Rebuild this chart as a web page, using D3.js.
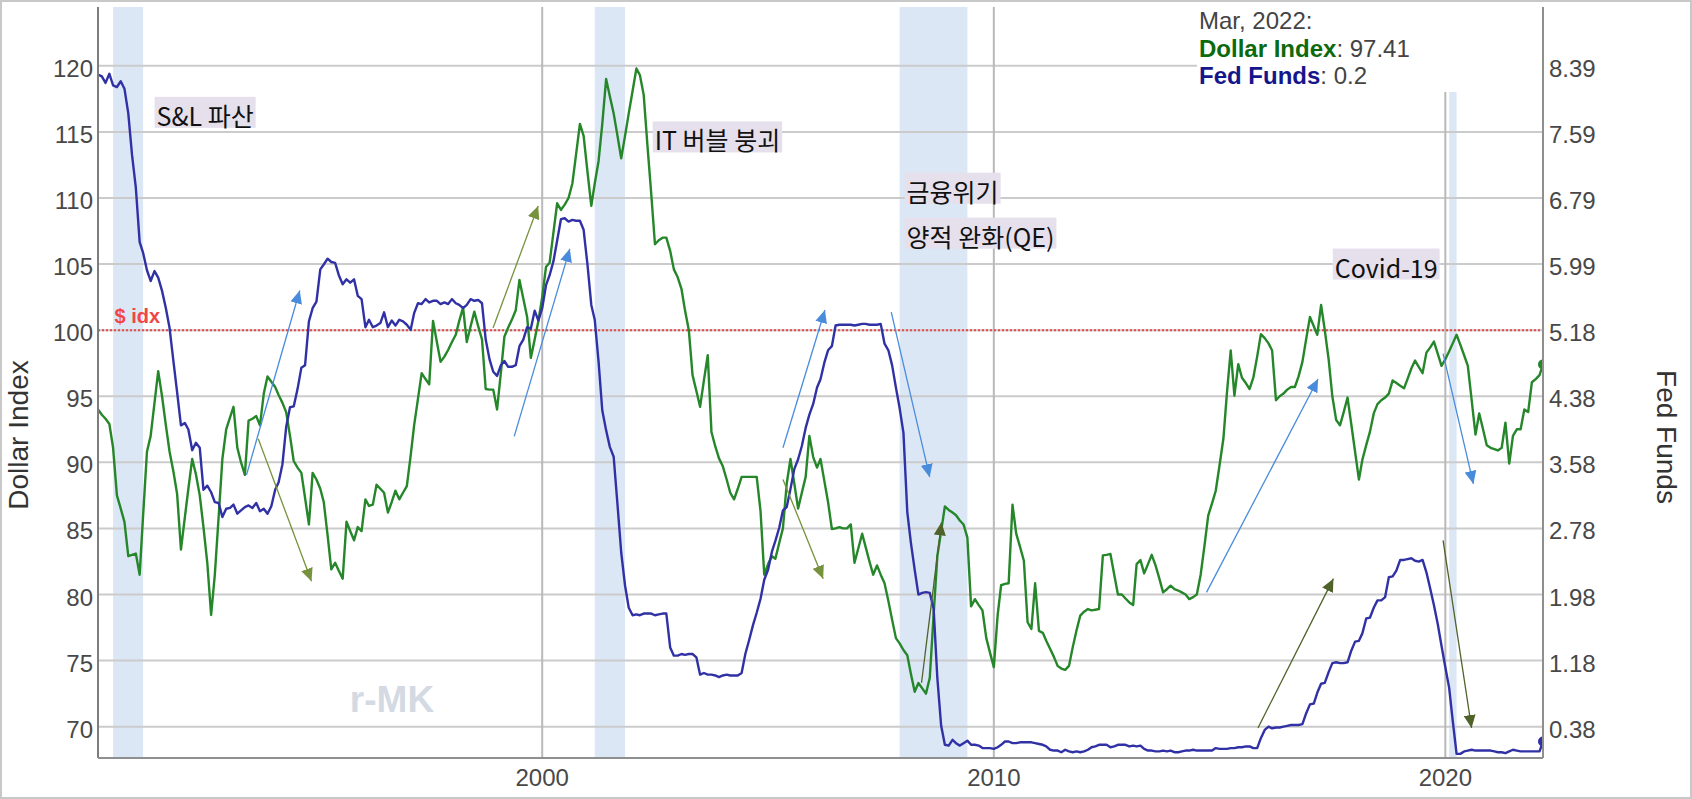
<!DOCTYPE html>
<html>
<head>
<meta charset="utf-8">
<script src="https://cdn.jsdelivr.net/npm/d3@7"></script>
<style>
  html, body { margin: 0; padding: 0; background: #fff; }
  svg { display: block; font-family: "Liberation Sans", Arial, sans-serif; }
</style>
</head>
<body>
<svg id="chart" width="1692" height="799"></svg>
<script>
// monthly data, first month = Mar 1990, last = Mar 2022
const startMonth = "1990-03";

const dollarIndex = [
  94.0, 93.6, 93.3, 92.9, 91.1, 87.5, 86.5, 85.5, 82.9, 83.0,                  // 1990 (Mar-Dec)
  83.1, 81.5, 86.0, 90.8, 92.0, 94.5, 96.9, 95.0, 92.8, 90.8, 89.3, 87.6,      // 1991
  83.4, 85.8, 88.0, 90.25, 89.1, 87.5, 85.1, 82.4, 78.45, 81.5, 85.9, 90.25,   // 1992
  92.5, 93.4, 94.2, 91.1, 90.0, 89.05, 93.16, 93.3, 93.5, 92.8, 95.2, 96.5,    // 1993
  96.1, 95.7, 95.1, 94.5, 93.8, 92.0, 90.1, 89.6, 89.2, 87.3, 85.3, 89.2,      // 1994
  88.7, 88.0, 87.0, 84.5, 81.9, 82.4, 81.8, 81.2, 85.5, 84.8, 84.1, 85.1,      // 1995
  84.8, 87.2, 86.7, 86.8, 88.3, 88.0, 87.7, 86.2, 87.0, 87.85, 87.2, 87.7,     // 1996
  88.2, 90.5, 92.8, 94.8, 96.75, 96.3, 95.9, 100.7, 99.1, 97.6, 98.0, 98.5,    // 1997
  99.1, 99.65, 100.7, 101.7, 99.1, 100.3, 101.4, 100.3, 99.3, 95.55, 95.5, 95.5, // 1998
  94.0, 96.8, 99.5, 100.2, 100.8, 101.5, 103.8, 102.4, 101.0, 97.9, 99.3, 100.7, // 1999
  102.5, 104.8, 105.1, 107.4, 109.6, 109.1, 109.5, 110.0, 111.1, 113.3, 115.6, 114.7, // 2000
  112.0, 109.4, 111.1, 112.8, 115.6, 119.0, 117.7, 116.4, 114.7, 113.0, 114.7, 116.4, // 2001
  118.1, 119.8, 119.3, 117.8, 114.0, 110.3, 106.5, 106.8, 107.0, 107.0, 106.0, 104.6, // 2002
  104.0, 103.1, 101.5, 100.0, 96.6, 95.4, 94.2, 96.2, 98.1, 92.3, 91.2, 90.3,  // 2003
  89.7, 88.7, 87.7, 87.2, 88.0, 88.9, 88.9, 88.9, 88.9, 88.9, 86.3, 81.5,      // 2004
  82.3, 82.9, 82.7, 83.9, 85.0, 88.4, 90.25, 88.4, 86.5, 87.7, 88.9, 92.0,     // 2005
  90.4, 89.6, 90.25, 88.6, 87.0, 84.95, 85.0, 85.1, 85.0, 85.0, 85.3, 82.4,    // 2006
  83.5, 84.6, 83.6, 82.5, 81.5, 82.2, 81.5, 80.85, 79.5, 78.1, 76.7, 76.3,     // 2007
  75.8, 75.4, 74.0, 72.64, 73.3, 72.9, 72.5, 73.7, 78.45, 82.9, 84.8, 86.66,   // 2008
  86.4, 86.2, 86.0, 85.6, 85.3, 84.3, 79.1, 79.65, 79.2, 78.8, 76.7, 75.6,     // 2009
  74.5, 78.45, 80.7, 80.8, 80.85, 86.8, 84.6, 83.6, 82.55, 77.9, 77.4, 80.85,  // 2010
  77.25, 77.1, 76.5, 75.9, 75.3, 74.6, 74.4, 74.3, 74.6, 76.0, 77.3, 78.4,     // 2011
  78.7, 78.9, 78.8, 78.85, 78.9, 82.96, 83.0, 83.07, 81.5, 80.0, 80.0, 79.7,   // 2012
  79.4, 79.2, 82.3, 82.6, 81.6, 82.3, 83.0, 82.2, 81.2, 80.16, 80.4, 80.67,    // 2013
  80.4, 80.3, 80.16, 80.0, 79.65, 79.8, 80.0, 81.5, 83.7, 85.97, 86.9, 87.85,  // 2014
  89.8, 91.8, 95.2, 98.46, 95.04, 97.43, 96.4, 96.0, 95.55, 96.4, 98.0, 99.7,  // 2015
  99.4, 99.0, 98.46, 94.7, 95.0, 95.2, 95.5, 95.7, 95.7, 96.5, 97.6, 99.3,     // 2016
  101.0, 100.3, 99.65, 101.9, 100.0, 97.8, 95.0, 93.2, 92.8, 93.8, 94.9, 92.9, // 2017
  90.8, 88.7, 90.2, 91.3, 92.3, 93.7, 94.4, 94.7, 94.9, 95.2, 96.2, 96.0,      // 2018
  95.8, 95.6, 96.3, 97.1, 97.7, 97.2, 96.75, 98.3, 98.7, 99.14, 98.2, 97.3,    // 2019
  97.8, 98.4, 99.0, 99.65, 98.9, 98.1, 97.3, 94.7, 92.1, 93.7, 92.5, 91.3,     // 2020
  91.1, 91.0, 90.9, 91.1, 93.0, 89.9, 92.0, 92.5, 92.5, 94.0, 93.8, 96.06,     // 2021
  96.3, 96.6, 97.41                                                            // 2022 (Jan-Mar)
];

const fedFunds = [
  8.28, 8.26, 8.18, 8.29, 8.15, 8.13, 8.20, 8.11, 7.81, 7.31,                  // 1990 (Mar-Dec)
  6.91, 6.25, 6.12, 5.91, 5.78, 5.90, 5.82, 5.66, 5.45, 5.21, 4.81, 4.43,      // 1991
  4.03, 4.06, 3.98, 3.73, 3.82, 3.76, 3.25, 3.30, 3.22, 3.10, 3.09, 2.92,      // 1992
  3.02, 3.03, 3.07, 2.96, 3.00, 3.04, 3.06, 3.03, 3.09, 2.99, 3.02, 2.96,      // 1993
  3.05, 3.25, 3.34, 3.56, 4.01, 4.25, 4.26, 4.47, 4.73, 4.76, 5.29, 5.45,      // 1994
  5.53, 5.92, 5.98, 6.05, 6.01, 6.00, 5.85, 5.74, 5.80, 5.76, 5.80, 5.60,      // 1995
  5.56, 5.22, 5.31, 5.22, 5.24, 5.27, 5.40, 5.22, 5.30, 5.24, 5.31, 5.29,      // 1996
  5.25, 5.19, 5.39, 5.51, 5.50, 5.56, 5.52, 5.54, 5.54, 5.50, 5.52, 5.50,      // 1997
  5.56, 5.51, 5.49, 5.45, 5.49, 5.56, 5.54, 5.55, 5.51, 5.07, 4.83, 4.68,      // 1998
  4.63, 4.76, 4.81, 4.74, 4.74, 4.76, 4.99, 5.07, 5.22, 5.20, 5.42, 5.30,      // 1999
  5.45, 5.73, 5.85, 6.02, 6.27, 6.53, 6.54, 6.50, 6.52, 6.51, 6.51, 6.40,      // 2000
  5.98, 5.49, 5.31, 4.80, 4.21, 3.97, 3.77, 3.65, 3.07, 2.49, 2.09, 1.82,      // 2001
  1.73, 1.74, 1.73, 1.75, 1.75, 1.75, 1.73, 1.74, 1.75, 1.75, 1.34, 1.24,      // 2002
  1.24, 1.26, 1.25, 1.26, 1.26, 1.22, 1.01, 1.03, 1.01, 1.01, 1.00, 0.98,      // 2003
  1.00, 1.01, 1.00, 1.00, 1.00, 1.03, 1.26, 1.43, 1.61, 1.76, 1.93, 2.16,      // 2004
  2.28, 2.50, 2.63, 2.79, 3.00, 3.04, 3.26, 3.50, 3.62, 3.78, 4.00, 4.16,      // 2005
  4.29, 4.49, 4.59, 4.79, 4.94, 4.99, 5.24, 5.25, 5.25, 5.25, 5.25, 5.24,      // 2006
  5.25, 5.26, 5.26, 5.25, 5.25, 5.25, 5.26, 5.02, 4.94, 4.76, 4.49, 4.24,      // 2007
  3.94, 2.98, 2.61, 2.28, 1.98, 2.00, 2.01, 2.00, 1.81, 0.97, 0.39, 0.16,      // 2008
  0.15, 0.22, 0.18, 0.15, 0.18, 0.21, 0.16, 0.16, 0.15, 0.12, 0.12, 0.12,      // 2009
  0.11, 0.13, 0.16, 0.20, 0.20, 0.18, 0.18, 0.19, 0.19, 0.19, 0.19, 0.18,      // 2010
  0.17, 0.16, 0.14, 0.10, 0.09, 0.09, 0.07, 0.10, 0.08, 0.07, 0.08, 0.07,      // 2011
  0.08, 0.10, 0.13, 0.14, 0.16, 0.16, 0.16, 0.13, 0.14, 0.16, 0.16, 0.16,      // 2012
  0.14, 0.15, 0.14, 0.15, 0.11, 0.09, 0.09, 0.08, 0.08, 0.09, 0.08, 0.09,      // 2013
  0.07, 0.07, 0.08, 0.09, 0.09, 0.10, 0.09, 0.09, 0.09, 0.09, 0.09, 0.12,      // 2014
  0.11, 0.11, 0.11, 0.12, 0.12, 0.13, 0.13, 0.14, 0.14, 0.12, 0.12, 0.24,      // 2015
  0.34, 0.38, 0.36, 0.37, 0.37, 0.38, 0.39, 0.40, 0.40, 0.40, 0.41, 0.54,      // 2016
  0.65, 0.66, 0.79, 0.90, 0.91, 1.04, 1.15, 1.16, 1.15, 1.15, 1.16, 1.30,      // 2017
  1.41, 1.42, 1.51, 1.69, 1.70, 1.82, 1.91, 1.91, 1.95, 2.19, 2.20, 2.27,      // 2018
  2.40, 2.40, 2.41, 2.42, 2.39, 2.38, 2.40, 2.25, 2.05, 1.85, 1.62, 1.36,      // 2019
  1.10, 0.85, 0.45, 0.05, 0.05, 0.08, 0.09, 0.10, 0.09, 0.09, 0.09, 0.09,      // 2020
  0.09, 0.08, 0.07, 0.07, 0.06, 0.08, 0.10, 0.09, 0.08, 0.08, 0.08, 0.08,      // 2021
  0.08, 0.08, 0.20                                                             // 2022 (Jan-Mar)
];

const leftTicks = [70, 75, 80, 85, 90, 95, 100, 105, 110, 115, 120];
const rightTickLabels = ["0.38", "1.18", "1.98", "2.78", "3.58", "4.38", "5.18", "5.99", "6.79", "7.59", "8.39"];
const yearTicks = [2000, 2010, 2020];

const recessionStart = ["1990-07", "2001-03", "2007-12", "2020-02"];
const recessionEnd   = ["1991-03", "2001-11", "2009-06", "2020-04"];

const noteText  = ["S&L 파산", "IT 버블 붕괴", "금융위기", "양적 완화(QE)", "Covid-19"];
const noteYear  = [1991.46, 2002.49, 2008.07, 2008.07, 2017.55];
const noteValue = [115.46, 113.6, 109.72, 106.32, 103.98];

// arrows: [fromYear, fromValue, toYear, toValue]
const arrowsBlue = [
  [1993.45, 89.05, 1994.63, 103.0],
  [1999.38, 91.96, 2000.61, 106.15],
  [2005.33, 91.1, 2006.26, 101.53],
  [2007.73, 101.36, 2008.58, 88.88],
  [2014.71, 80.16, 2017.18, 96.3],
  [2019.95, 98.22, 2020.62, 88.37]
];
const arrowsOlive = [
  [1993.71, 91.79, 1994.89, 81.0],
  [1998.91, 100.17, 1999.91, 109.4],
  [2005.33, 88.71, 2006.22, 81.2]
];
const arrowsDark = [
  [2008.40, 73.32, 2008.84, 85.46],
  [2015.85, 69.9, 2017.52, 81.2],
  [2019.95, 84.09, 2020.58, 69.9]
];

const lastLabel = "Mar, 2022:";

// ---------------------------------------------------------------
const svg = d3.select("#chart");
const W = 1692, H = 799;
const margin = { top: 7, right: 149, bottom: 41, left: 98 };
const plotLeft = margin.left, plotRight = W - margin.right;
const plotTop = margin.top, plotBottom = H - margin.bottom;

const parseMonth = d3.timeParse("%Y-%m");
const first = parseMonth(startMonth);
const dates = dollarIndex.map((d, i) => d3.timeMonth.offset(first, i));

function decYear(y) {
  const yr = Math.floor(y);
  const a = new Date(yr, 0, 1), b = new Date(yr + 1, 0, 1);
  return new Date(+a + (y - yr) * (b - a));
}

const x = d3.scaleTime()
  .domain([dates[0], dates[dates.length - 1]])
  .range([plotLeft, plotRight]);

const yL = d3.scaleLinear().domain([67.63, 124.45]).range([plotBottom, plotTop]);
const yR = d3.scaleLinear().domain([0, (124.45 - 67.63) * 0.16015]).range([plotBottom, plotTop]);

svg.append("rect").attr("width", W).attr("height", H).attr("fill", "#fff");

const defs = svg.append("defs");
defs.append("clipPath").attr("id", "plotClip")
  .append("rect").attr("x", plotLeft).attr("y", plotTop)
  .attr("width", plotRight - plotLeft).attr("height", plotBottom - plotTop);

// recession bands
svg.append("g").selectAll("rect")
  .data(recessionStart)
  .enter().append("rect")
  .attr("x", d => x(parseMonth(d)))
  .attr("width", (d, i) => x(parseMonth(recessionEnd[i])) - x(parseMonth(d)))
  .attr("y", plotTop)
  .attr("height", plotBottom - plotTop)
  .attr("fill", "#dce7f6");

// horizontal grid
svg.append("g").selectAll("line")
  .data(leftTicks)
  .enter().append("line")
  .attr("x1", plotLeft).attr("x2", plotRight)
  .attr("y1", d => yL(d)).attr("y2", d => yL(d))
  .attr("stroke", "#cbcbcb")
  .attr("stroke-width", 2);

// vertical grid
svg.append("g").selectAll("line")
  .data(yearTicks)
  .enter().append("line")
  .attr("x1", d => x(new Date(d, 0, 1))).attr("x2", d => x(new Date(d, 0, 1)))
  .attr("y1", plotTop).attr("y2", plotBottom)
  .attr("stroke", "#b9b9b9")
  .attr("stroke-width", 2);

// $ idx reference line
svg.append("line")
  .attr("x1", plotLeft).attr("x2", plotRight)
  .attr("y1", yL(100)).attr("y2", yL(100))
  .attr("stroke", "#e5484a")
  .attr("stroke-width", 2)
  .attr("stroke-dasharray", "2,2");

svg.append("text")
  .attr("x", x(decYear(1990.53)))
  .attr("y", yL(100.51))
  .attr("fill", "#f04646")
  .attr("font-size", "20px")
  .attr("font-weight", "bold")
  .text("$ idx");

// watermark
svg.append("text")
  .attr("x", x(decYear(1995.74)))
  .attr("y", yL(71.13))
  .attr("fill", "#d3dae3")
  .attr("font-size", "37px")
  .attr("font-weight", "bold")
  .text("r-MK");

// event notes
const notes = svg.append("g").selectAll("g")
  .data(noteText)
  .enter().append("g");

notes.append("text")
  .attr("x", (d, i) => x(decYear(noteYear[i])))
  .attr("y", (d, i) => yL(noteValue[i]))
  .attr("font-family", "'Noto Sans CJK KR', 'Noto Sans', sans-serif")
  .attr("font-size", "25px")
  .attr("fill", "#111")
  .text(d => d);

notes.insert("rect", "text")
  .each(function (d, i) {
    const t = d3.select(this.parentNode).select("text").node();
    const w = t.getComputedTextLength();
    d3.select(this)
      .attr("x", x(decYear(noteYear[i])) - 2)
      .attr("y", yL(noteValue[i]) - 29)
      .attr("width", w + 4)
      .attr("height", 31)
      .attr("fill", "#e5e0ec");
  });

// series lines
const plot = svg.append("g").attr("clip-path", "url(#plotClip)");

const lineL = d3.line().x((d, i) => x(dates[i])).y(d => yL(d));
const lineR = d3.line().x((d, i) => x(dates[i])).y(d => yR(d));

plot.append("path")
  .datum(dollarIndex)
  .attr("d", lineL)
  .attr("fill", "none")
  .attr("stroke", "#25872a")
  .attr("stroke-width", 2.4)
  .attr("stroke-linejoin", "round");

plot.append("path")
  .datum(fedFunds)
  .attr("d", lineR)
  .attr("fill", "none")
  .attr("stroke", "#3131a6")
  .attr("stroke-width", 2.4)
  .attr("stroke-linejoin", "round");

// arrows
function addMarker(id, color) {
  defs.append("marker")
    .attr("id", id)
    .attr("markerUnits", "userSpaceOnUse")
    .attr("markerWidth", 14).attr("markerHeight", 12)
    .attr("refX", 13).attr("refY", 6)
    .attr("orient", "auto")
    .append("path")
    .attr("d", "M0,0 L13,6 L0,12 Z")
    .attr("fill", color);
}
addMarker("headBlue", "#4a8cdc");
addMarker("headOlive", "#76923c");
addMarker("headDark", "#4f6228");

function drawArrows(list, color, marker) {
  svg.append("g").selectAll("line")
    .data(list)
    .enter().append("line")
    .attr("x1", d => x(decYear(d[0]))).attr("y1", d => yL(d[1]))
    .attr("x2", d => x(decYear(d[2]))).attr("y2", d => yL(d[3]))
    .attr("stroke", color)
    .attr("stroke-width", 1.3)
    .attr("marker-end", `url(#${marker})`);
}
drawArrows(arrowsBlue, "#4a8cdc", "headBlue");
drawArrows(arrowsOlive, "#76923c", "headOlive");
drawArrows(arrowsDark, "#4f6228", "headDark");

// end points
const n = dates.length - 1;
plot.append("circle")
  .attr("cx", x(dates[n])).attr("cy", yL(dollarIndex[n]))
  .attr("r", 5).attr("fill", "#25872a");
plot.append("circle")
  .attr("cx", x(dates[n])).attr("cy", yR(fedFunds[n]))
  .attr("r", 5).attr("fill", "#3131a6");

// readout box (top right)
const boxX = plotRight - 346;
svg.append("rect")
  .attr("x", boxX).attr("y", 0)
  .attr("width", 346).attr("height", 92)
  .attr("fill", "#fff");

const readout = svg.append("g").attr("font-size", "24px").attr("fill", "#444");
readout.append("text").attr("x", boxX + 2).attr("y", 29).text(lastLabel);

const r1 = readout.append("text").attr("x", boxX + 2).attr("y", 57);
r1.append("tspan").attr("font-weight", "bold").attr("fill", "#0c6a0c").text("Dollar Index");
r1.append("tspan").text(": " + dollarIndex[n]);

const r2 = readout.append("text").attr("x", boxX + 2).attr("y", 84);
r2.append("tspan").attr("font-weight", "bold").attr("fill", "#16168c").text("Fed Funds");
r2.append("tspan").text(": " + fedFunds[n]);

// axis lines
svg.append("line").attr("x1", plotLeft).attr("x2", plotLeft).attr("y1", plotTop).attr("y2", plotBottom)
  .attr("stroke", "#7d7d7d").attr("stroke-width", 2);
svg.append("line").attr("x1", plotRight).attr("x2", plotRight).attr("y1", plotTop).attr("y2", plotBottom)
  .attr("stroke", "#8f8f8f").attr("stroke-width", 2);
svg.append("line").attr("x1", plotLeft).attr("x2", plotRight).attr("y1", plotBottom).attr("y2", plotBottom)
  .attr("stroke", "#8f8f8f").attr("stroke-width", 2);

// tick labels
svg.append("g").selectAll("text")
  .data(leftTicks)
  .enter().append("text")
  .attr("x", plotLeft - 5)
  .attr("y", d => yL(d) + 11)
  .attr("text-anchor", "end")
  .attr("font-size", "24px")
  .attr("fill", "#484848")
  .text(d => d);

svg.append("g").selectAll("text")
  .data(rightTickLabels)
  .enter().append("text")
  .attr("x", plotRight + 6)
  .attr("y", (d, i) => yL(leftTicks[i]) + 11)
  .attr("font-size", "24px")
  .attr("fill", "#484848")
  .text(d => d);

svg.append("g").selectAll("text")
  .data(yearTicks)
  .enter().append("text")
  .attr("x", d => x(new Date(d, 0, 1)))
  .attr("y", 786)
  .attr("text-anchor", "middle")
  .attr("font-size", "24px")
  .attr("fill", "#484848")
  .text(d => d);

// axis titles
svg.append("text")
  .attr("transform", "translate(28,435) rotate(-90)")
  .attr("text-anchor", "middle")
  .attr("font-size", "28px")
  .attr("fill", "#333")
  .text("Dollar Index");

svg.append("text")
  .attr("transform", "translate(1657,437) rotate(90)")
  .attr("text-anchor", "middle")
  .attr("font-size", "28px")
  .attr("fill", "#333")
  .text("Fed Funds");

// page frame
svg.append("rect")
  .attr("x", 1).attr("y", 1)
  .attr("width", W - 2).attr("height", H - 2)
  .attr("fill", "none")
  .attr("stroke", "#c8c8c8")
  .attr("stroke-width", 2);
</script>
</body>
</html>
